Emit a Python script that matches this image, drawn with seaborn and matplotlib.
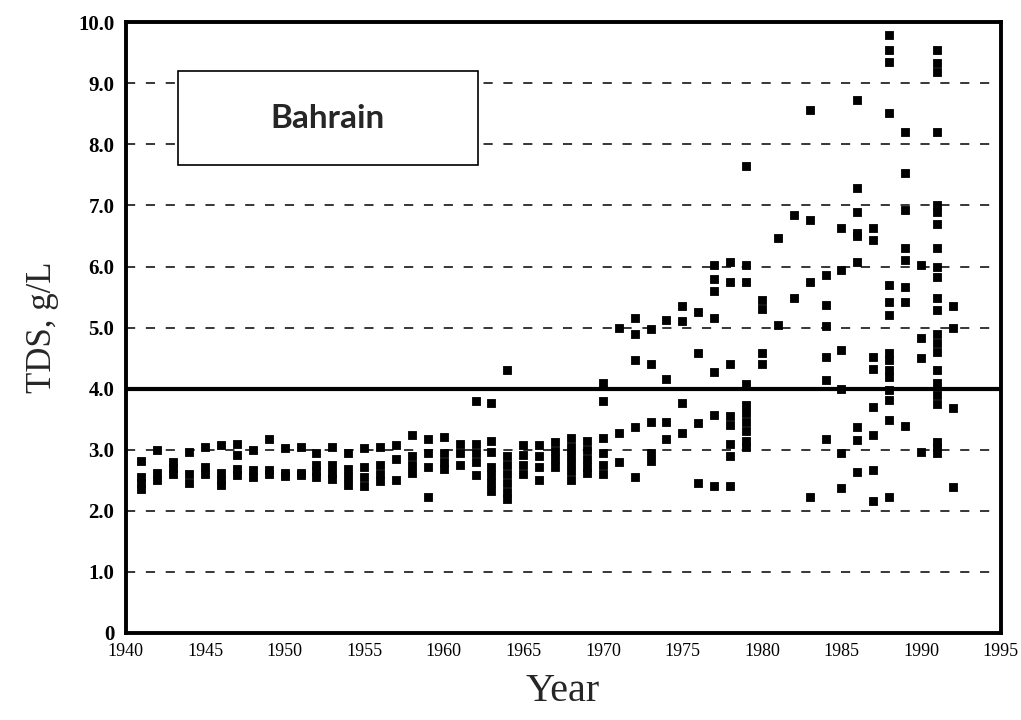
import seaborn as sns
import matplotlib.pyplot as plt
from matplotlib.patches import Rectangle
import pandas as pd

years = list(range(1941, 1993))
tds_by_year = [
    [2.82, 2.55, 2.45, 2.35],            # 1941
    [3.0, 2.62, 2.5],                    # 1942
    [2.8, 2.7, 2.6],                     # 1943
    [2.97, 2.6, 2.45],                   # 1944
    [3.05, 2.72, 2.6],                   # 1945
    [3.08, 2.62, 2.5, 2.42],             # 1946
    [3.1, 2.92, 2.68, 2.58],             # 1947
    [3.0, 2.66, 2.55],                   # 1948
    [3.18, 2.67, 2.6],                   # 1949
    [3.03, 2.62, 2.57],                  # 1950
    [3.05, 2.62, 2.58],                  # 1951
    [2.95, 2.75, 2.65, 2.55],            # 1952
    [3.05, 2.75, 2.62, 2.52],            # 1953
    [2.95, 2.68, 2.55, 2.42],            # 1954
    [3.03, 2.72, 2.55, 2.4],             # 1955
    [3.05, 2.75, 2.6, 2.48],             # 1956
    [3.08, 2.85, 2.5],                   # 1957
    [3.24, 2.9, 2.75, 2.62],             # 1958
    [3.17, 2.95, 2.72, 2.23],            # 1959
    [3.21, 2.95, 2.8, 2.68],             # 1960
    [3.1, 2.95, 2.75],                   # 1961
    [3.8, 3.1, 2.95, 2.8, 2.58],         # 1962
    [3.77, 3.15, 2.97, 2.72, 2.58, 2.45, 2.32],  # 1963
    [4.3, 2.9, 2.75, 2.6, 2.45, 2.3, 2.2],       # 1964
    [3.08, 2.92, 2.75, 2.6],             # 1965
    [3.08, 2.9, 2.72, 2.5],              # 1966
    [3.12, 2.98, 2.85, 2.72],            # 1967
    [3.2, 3.05, 2.92, 2.78, 2.65, 2.5],  # 1968
    [3.15, 3.0, 2.85, 2.72, 2.62],       # 1969
    [4.1, 3.8, 3.2, 2.95, 2.75, 2.6],    # 1970
    [5.0, 3.28, 2.8],                    # 1971
    [5.16, 4.9, 4.47, 3.38, 2.55],       # 1972
    [4.97, 4.4, 3.45, 2.95, 2.82],       # 1973
    [5.12, 4.15, 3.45, 3.17],            # 1974
    [5.35, 5.1, 3.77, 3.28],             # 1975
    [5.25, 4.58, 3.44, 2.46],            # 1976
    [6.02, 5.8, 5.6, 5.16, 4.27, 3.57, 2.4],     # 1977
    [6.08, 5.75, 4.4, 3.55, 3.4, 3.1, 2.9, 2.4],  # 1978
    [7.65, 6.03, 5.75, 4.07, 3.73, 3.6, 3.45, 3.3, 3.15, 3.05],  # 1979
    [5.45, 5.3, 4.58, 4.4],              # 1980
    [6.47, 5.05],                        # 1981
    [6.84, 5.48],                        # 1982
    [8.56, 6.76, 5.75, 2.22],            # 1983
    [5.86, 5.37, 5.02, 4.52, 4.14, 3.17],  # 1984
    [6.63, 5.94, 4.63, 4.0, 2.95, 2.37],   # 1985
    [8.72, 7.28, 6.9, 6.55, 6.5, 6.07, 3.37, 3.16, 2.63],  # 1986
    [6.63, 6.43, 4.52, 4.33, 3.7, 3.24, 2.67, 2.16],       # 1987
    [9.79, 9.54, 9.35, 8.51, 5.7, 5.42, 5.2, 4.58, 4.47, 4.3,
     4.19, 3.98, 3.81, 3.49, 2.22],      # 1988
    [8.2, 7.53, 6.92, 6.3, 6.1, 5.66, 5.42, 3.39],  # 1989
    [6.02, 4.83, 4.5, 2.96],             # 1990
    [9.54, 9.33, 9.18, 8.2, 7.0, 6.9, 6.69, 6.3, 5.99, 5.83, 5.48,
     5.29, 4.9, 4.75, 4.6, 4.3, 4.1, 3.9, 3.75, 3.12, 3.05, 2.95],  # 1991
    [5.35, 5.0, 3.68, 2.39],             # 1992
]
limit_tds = 4.0
x_ticks = list(range(1940, 2000, 5))
y_ticks = list(range(0, 11))
y_tick_labels = ['0'] + [f'{v:.1f}' for v in y_ticks[1:]]

rows = [(yr, v) for yr, vals in zip(years, tds_by_year) for v in vals]
df = pd.DataFrame(rows, columns=['Year', 'TDS'])

sns.set_style('white')
plt.rcParams['font.family'] = ['Liberation Serif', 'DejaVu Serif']

fig = plt.figure(figsize=(10.21, 7.2), dpi=100)
ax = fig.add_axes([0.123, 0.121, 0.857, 0.848])

# пунктирные линии сетки
for v in y_ticks[1:-1]:
    if v != limit_tds:
        ax.axhline(v, color='black', lw=1.1, ls=(0, (6, 7)), zorder=1)
ax.axhline(limit_tds, color='black', lw=3, zorder=2)

sns.scatterplot(data=df, x='Year', y='TDS', marker='s', s=34, color='black',
                edgecolor='black', linewidth=0.6, ax=ax, zorder=3)

ax.set_xlim(1940, 1995)
ax.set_ylim(0, 10)
ax.set_xticks(x_ticks)
ax.set_xticklabels([str(t) for t in x_ticks], fontsize=13)
ax.set_yticks(y_ticks)
ax.set_yticklabels(y_tick_labels, fontsize=15, fontweight='bold')
ax.tick_params(direction='in', length=7, width=1.2, colors='black')
ax.tick_params(axis='x', pad=7)
ax.tick_params(axis='y', pad=8)
for sp in ax.spines.values():
    sp.set_linewidth(2.8)
    sp.set_color('black')

ax.set_xlabel('Year', fontsize=29, labelpad=10)
ax.set_ylabel('TDS, g/L', fontsize=25, labelpad=14)

# рамка с подписью
ax.add_patch(Rectangle((0.06, 0.766), 0.343, 0.155, transform=ax.transAxes,
                       facecolor='white', edgecolor='black', lw=1.2, zorder=4))
ax.text(0.231, 0.843, 'Bahrain', transform=ax.transAxes, ha='center', va='center',
        fontsize=24, fontweight='bold', family=['Lato', 'DejaVu Sans'], zorder=5)

fig.savefig('out.png', dpi=100)
